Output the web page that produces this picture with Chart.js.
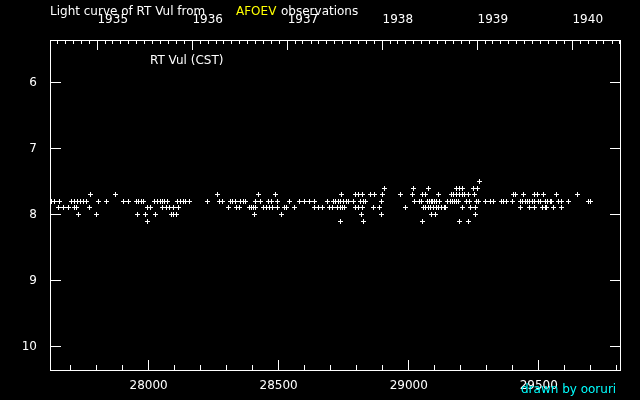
<!DOCTYPE html>
<html>
<head>
<meta charset="utf-8">
<title>Light curve of RT Vul</title>
<script src="https://cdn.jsdelivr.net/npm/chart.js@4.4.1/dist/chart.umd.min.js"></script>
<style>
  html, body { margin: 0; padding: 0; background: #000; }
  canvas { display: block; }
</style>
</head>
<body>
<canvas id="lightCurve" width="640" height="400"></canvas>
<script>
// ==========================================
// DATA (JD - 2400000 vs visual magnitude)
// ==========================================
const magLevels = [7.5, 7.6, 7.7, 7.8, 7.9, 8.0, 8.1];

const jdMag75 = [29271];
const jdMag76 = [28905, 29017, 29076, 29182, 29194, 29205, 29248, 29263];
const jdMag77 = [27776, 27872, 28266, 28422, 28487, 28742, 28797, 28806, 28823, 28853,
  28867, 28900, 28969, 29015, 29053, 29066, 29114, 29165, 29174, 29185, 29194, 29205,
  29214, 29229, 29251, 29402, 29412, 29440, 29485, 29494, 29517, 29569, 29648];
const jdMag78 = [27626, 27639, 27656, 27702, 27715, 27728, 27740, 27749, 27760, 27809,
  27840, 27902, 27922, 27952, 27962, 27974, 27980, 28021, 28033, 28044, 28054, 28063,
  28072, 28110, 28123, 28133, 28141, 28157, 28227, 28274, 28285, 28313, 28323, 28333,
  28354, 28364, 28374, 28411, 28429, 28460, 28473, 28495, 28541, 28582, 28601, 28618,
  28636, 28687, 28710, 28720, 28729, 28738, 28748, 28759, 28768, 28789, 28815, 28825,
  28834, 28896, 29024, 29043, 29051, 29071, 29080, 29086, 29093, 29100, 29108, 29118,
  29150, 29159, 29168, 29175, 29185, 29192, 29223, 29235, 29261, 29269, 29297, 29313,
  29326, 29355, 29364, 29377, 29400, 29428, 29438, 29447, 29456, 29466, 29476, 29484,
  29498, 29507, 29524, 29532, 29544, 29550, 29575, 29588, 29614, 29690, 29699];
const jdMag79 = [27653, 27672, 27692, 27714, 27724, 27772, 27995, 28009, 28054, 28069,
  28082, 28097, 28114, 28306, 28338, 28348, 28386, 28394, 28403, 28412, 28441, 28452,
  28463, 28477, 28495, 28524, 28531, 28559, 28636, 28653, 28668, 28695, 28708, 28725,
  28736, 28746, 28755, 28797, 28806, 28821, 28864, 28887, 28986, 29056, 29066, 29076,
  29082, 29095, 29105, 29116, 29126, 29136, 29142, 29206, 29238, 29255, 29428, 29463,
  29483, 29515, 29524, 29530, 29556, 29586];
const jdMag80 = [27730, 27799, 27957, 27988, 28026, 28089, 28097, 28108, 28407, 28509,
  28819, 28896, 29089, 29101, 29257];
const jdMag81 = [27995, 28736, 28825, 29052, 29194, 29229];

const jdByMag = [jdMag75, jdMag76, jdMag77, jdMag78, jdMag79, jdMag80, jdMag81];

// axis ranges and tick labels
const jdMin = 27621;
const jdMax = 29816;
const magMin = 5.356;
const magMax = 10.371;
const jdTicks = [28000, 28500, 29000, 29500];
const magTicks = [6, 7, 8, 9, 10];
const yearLabels = [1935, 1936, 1937, 1938, 1939, 1940];

// ==========================================
// HELPERS
// ==========================================
// calendar date (UTC midnight) -> JD - 2400000
function dateToJd(year, month) {
  return Date.UTC(year, month, 1) / 86400000 + 40587.5;
}

const yearTicks = yearLabels.map(y => dateToJd(y, 0));

let monthTicks = [];
for (let y = 1934; y <= 1940; y++) {
  for (let m = 1; m < 12; m++) {
    const jd = dateToJd(y, m);
    if (jd > jdMin && jd < jdMax) monthTicks.push(jd);
  }
}

let jdMinorTicks = [];
for (let v = Math.ceil(jdMin / 100) * 100; v < jdMax; v += 100) {
  if (!jdTicks.includes(v)) jdMinorTicks.push(v);
}

let points = [];
magLevels.forEach((mag, i) => {
  jdByMag[i].forEach(jd => points.push({ x: jd, y: mag }));
});

// small pixel "+" used as the point style
const plusMark = document.createElement('canvas');
plusMark.width = 5;
plusMark.height = 5;
const pctx = plusMark.getContext('2d');
pctx.fillStyle = '#ffffff';
pctx.fillRect(0, 2, 5, 1);
pctx.fillRect(2, 0, 1, 5);

// ==========================================
// FRAME, INWARD TICKS AND TEXT
// ==========================================
const framePlugin = {
  id: 'frame',
  beforeDatasetsDraw(chart) {
    chart.ctx.imageSmoothingEnabled = false;
  },
  afterDraw(chart) {
    const { ctx, chartArea: a, scales } = chart;
    const px = v => Math.floor(scales.x.getPixelForValue(v)) + 0.5;
    const py = v => Math.floor(scales.y.getPixelForValue(v)) + 0.5;

    ctx.save();
    ctx.strokeStyle = '#ffffff';
    ctx.lineWidth = 1;
    ctx.strokeRect(a.left + 0.5, a.top + 0.5, a.right - a.left - 1, a.bottom - a.top - 1);

    ctx.beginPath();
    jdTicks.forEach(v => { ctx.moveTo(px(v), a.bottom); ctx.lineTo(px(v), a.bottom - 11); });
    jdMinorTicks.forEach(v => { ctx.moveTo(px(v), a.bottom); ctx.lineTo(px(v), a.bottom - 6); });
    yearTicks.forEach(v => { ctx.moveTo(px(v), a.top); ctx.lineTo(px(v), a.top + 10); });
    monthTicks.forEach(v => { ctx.moveTo(px(v), a.top); ctx.lineTo(px(v), a.top + 4); });
    magTicks.forEach(v => {
      ctx.moveTo(a.left, py(v)); ctx.lineTo(a.left + 11, py(v));
      ctx.moveTo(a.right, py(v)); ctx.lineTo(a.right - 11, py(v));
    });
    ctx.stroke();

    ctx.font = '12px "DejaVu Sans"';
    ctx.textBaseline = 'middle';
    ctx.textAlign = 'left';
    ctx.fillStyle = '#ffffff';
    ctx.fillText('Light curve of RT Vul from', 50, 12);
    ctx.fillStyle = '#ffff00';
    ctx.fillText('AFOEV', 236, 12);
    ctx.fillStyle = '#ffffff';
    ctx.fillText('observations', 281, 12);
    ctx.fillText('RT Vul (CST)', 150, 61);
    ctx.fillStyle = '#00ffff';
    ctx.fillText('drawn by ooruri', 521, 390);
    ctx.restore();
  }
};

// ==========================================
// CHART
// ==========================================
Chart.defaults.font.family = '"DejaVu Sans"';
Chart.defaults.font.size = 12;
Chart.defaults.color = '#ffffff';

const ctx = document.getElementById('lightCurve').getContext('2d');

new Chart(ctx, {
  type: 'scatter',
  data: {
    datasets: [{
      data: points,
      pointStyle: plusMark,
      radius: 2.5,
      borderWidth: 0,
      borderColor: '#ffffff',
      backgroundColor: '#ffffff'
    }]
  },
  options: {
    responsive: false,
    animation: false,
    devicePixelRatio: 1,
    layout: { padding: { top: 0, right: 19, bottom: 0, left: 0 } },
    plugins: {
      legend: { display: false },
      tooltip: { enabled: false }
    },
    scales: {
      x: {
        type: 'linear',
        position: 'bottom',
        min: jdMin,
        max: jdMax,
        bounds: 'data',
        grid: { display: false },
        border: { display: false },
        afterBuildTicks: s => { s.ticks = jdTicks.map(v => ({ value: v })); },
        afterFit: s => { s.height = 29; },
        ticks: { padding: 0, autoSkip: false, maxRotation: 0, callback: v => String(v) }
      },
      years: {
        type: 'linear',
        axis: 'x',
        position: 'top',
        min: jdMin,
        max: jdMax,
        bounds: 'data',
        grid: { display: false },
        border: { display: false },
        afterBuildTicks: s => { s.ticks = yearTicks.map(v => ({ value: v })); },
        afterFit: s => { s.height = 40; },
        ticks: {
          align: 'start',
          padding: 4.5,
          autoSkip: false,
          maxRotation: 0,
          callback: (v, i) => String(yearLabels[i])
        }
      },
      y: {
        type: 'linear',
        position: 'left',
        reverse: true,
        min: magMin,
        max: magMax,
        bounds: 'data',
        grid: { display: false },
        border: { display: false },
        afterBuildTicks: s => { s.ticks = magTicks.map(v => ({ value: v })); },
        afterFit: s => { s.width = 50; },
        ticks: { padding: 5, autoSkip: false, callback: v => String(v) }
      }
    }
  },
  plugins: [framePlugin]
});
</script>
</body>
</html>
